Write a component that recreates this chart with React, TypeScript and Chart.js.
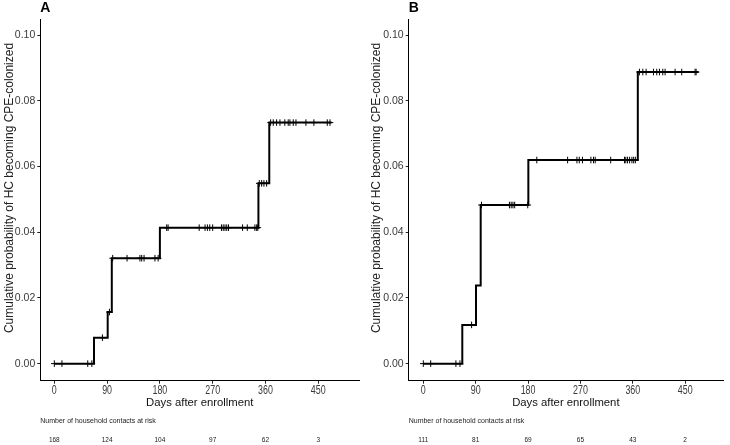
import React, { useEffect, useRef } from "react";
import { Chart, registerables } from "chart.js";
Chart.register(...registerables);

// ---------- data ----------
const xTicks = [0, 90, 180, 270, 360, 450];
const yTicks = [0, 0.02, 0.04, 0.06, 0.08, 0.1];

const riskA = [168, 124, 104, 97, 62, 3];
const riskB = [111, 81, 69, 65, 43, 2];

// Kaplan-Meier style cumulative incidence: time of step, value after step
const stepTimesA = [0, 67.7, 91, 98, 180, 348, 366.5, 472.8];
const stepValuesA = [0, 0.0079, 0.0157, 0.0321, 0.0414, 0.0549, 0.0734, 0.0734];
const censorTimesA = [
  0, 13, 57, 64, 82, 94, 99.5, 124, 146, 149, 153, 171.6, 177, 191.6, 194, 247,
  257, 261, 265, 270, 285, 288, 291, 294, 297, 321, 329, 342, 345, 347, 349.5,
  353.5, 357.4, 362, 368.8, 373.3, 379, 384.7, 393, 398.8, 401.7, 407.4, 412,
  429, 442.6, 465.4, 470,
];

const stepTimesB = [0, 67, 90.6, 98.6, 180.5, 368.6, 472.8];
const stepValuesB = [0, 0.0118, 0.0238, 0.0483, 0.062, 0.0888, 0.0888];
const censorTimesB = [
  0, 12.7, 56, 63, 83, 100, 148, 151, 154, 157, 179.5, 195, 248, 264, 268,
  273.5, 288, 292.5, 295.4, 322, 345.7, 348, 351, 354.5, 358.5, 361.5, 364.4,
  371.4, 377.2, 382.9, 395.5, 401.2, 405.8, 411.5, 415.5, 432.7, 444.1, 467,
  468.8,
];

const xTitle = "Days after enrollment";
const yTitle = "Cumulative probability of HC becoming CPE-colonized";
const riskTitle = "Number of household contacts at risk";

// ---------- helpers ----------
function valueAt(times: number[], vals: number[], t: number) {
  let v = vals[0];
  for (let i = 0; i < times.length; i++) if (times[i] <= t) v = vals[i];
  return v;
}

type Panel = {
  label: string;
  times: number[];
  values: number[];
  censor: number[];
  risk: number[];
  xmin: number;
  xmax: number;
  yAxisWidth: number;
  padRight: number;
  yTitleX: number;
};

const panels: Panel[] = [
  { label: "A", times: stepTimesA, values: stepValuesA, censor: censorTimesA, risk: riskA, xmin: -23.9, xmax: 520, yAxisWidth: 40.3, padRight: 5.7, yTitleX: 9.5 },
  { label: "B", times: stepTimesB, values: stepValuesB, censor: censorTimesB, risk: riskB, xmin: -25.1, xmax: 515, yAxisWidth: 43.7, padRight: 7, yTitleX: 12 },
];

const SANS = "'Liberation Sans', Arial, sans-serif";

function makeConfig(p: Panel): any {
  const extras = {
    id: "extras" + p.label,
    afterDraw(chart: any) {
      const ctx = chart.ctx;
      const area = chart.chartArea;
      const xs = chart.scales.x;
      ctx.save();
      // panel letter
      ctx.fillStyle = "#000";
      ctx.font = `bold 14px ${SANS}`;
      ctx.textAlign = "left";
      ctx.textBaseline = "middle";
      ctx.fillText(p.label, area.left, 8);
      // y axis title
      ctx.save();
      ctx.fillStyle = "#222";
      ctx.font = `12px ${SANS}`;
      ctx.textAlign = "center";
      ctx.translate(p.yTitleX, 188);
      ctx.rotate(-Math.PI / 2);
      ctx.fillText(yTitle, 0, 0);
      ctx.restore();
      // condensed x tick labels
      ctx.fillStyle = "#3a3a3a";
      ctx.font = `12px ${SANS}`;
      ctx.textAlign = "center";
      xTicks.forEach((v) => {
        const px = xs.getPixelForValue(v);
        ctx.save();
        ctx.translate(px, 390.5);
        ctx.scale(0.74, 1);
        ctx.fillText(String(v), 0, 0);
        ctx.restore();
      });
      // risk table
      ctx.fillStyle = "#222";
      ctx.textAlign = "left";
      ctx.font = `7px ${SANS}`;
      ctx.fillText(riskTitle, area.left, 421);
      ctx.font = `6.5px ${SANS}`;
      ctx.textAlign = "center";
      p.risk.forEach((n, i) => {
        ctx.fillText(String(n), xs.getPixelForValue(xTicks[i]), 440);
      });
      ctx.restore();
    },
  };
  return {
    type: "line",
    data: {
      datasets: [
        {
          data: p.times.map((t, i) => ({ x: t, y: p.values[i] })),
          stepped: "before",
          borderColor: "#000",
          borderWidth: 2,
          pointRadius: 0,
          fill: false,
        },
        {
          type: "scatter",
          data: p.censor.map((t) => ({ x: t, y: valueAt(p.times, p.values, t) })),
          pointStyle: "cross",
          pointRadius: 3.3,
          borderColor: "#000",
          backgroundColor: "#000",
          borderWidth: 1,
          showLine: false,
        },
      ],
    },
    options: {
      animation: false,
      responsive: false,
      maintainAspectRatio: false,
      layout: { padding: { left: 0, right: p.padRight, top: 19.5, bottom: 35.3 } },
      plugins: { legend: { display: false }, tooltip: { enabled: false } },
      scales: {
        x: {
          type: "linear",
          min: p.xmin,
          max: p.xmax,
          afterBuildTicks: (s: any) => {
            s.ticks = xTicks.map((v) => ({ value: v }));
          },
          afterFit: (s: any) => {
            s.height = 29;
          },
          grid: { display: true, drawOnChartArea: false, drawTicks: true, tickLength: 3, color: "#222", lineWidth: 1 },
          border: { display: true, color: "#000", width: 1 },
          ticks: { display: false },
          title: { display: true, text: xTitle, color: "#111", font: { family: SANS, size: 11.3 }, padding: 0 },
        },
        y: {
          type: "linear",
          min: -0.0052,
          max: 0.1048,
          afterBuildTicks: (s: any) => {
            s.ticks = yTicks.map((v) => ({ value: v }));
          },
          afterFit: (s: any) => {
            s.width = p.yAxisWidth;
          },
          grid: { display: true, drawOnChartArea: false, drawTicks: true, tickLength: 3, color: "#222", lineWidth: 1 },
          border: { display: true, color: "#000", width: 1 },
          ticks: { color: "#3a3a3a", font: { family: SANS, size: 10.5 }, padding: 2, callback: (v: any) => Number(v).toFixed(2) },
          title: { display: false },
        },
      },
    },
    plugins: [extras],
  };
}

function PanelChart({ p, left }: { p: Panel; left: number }) {
  const ref = useRef<HTMLCanvasElement | null>(null);
  useEffect(() => {
    if (!ref.current) return;
    const chart = new Chart(ref.current, makeConfig(p));
    return () => chart.destroy();
  }, [p]);
  return (
    <canvas
      ref={ref}
      width={365}
      height={445}
      style={{ position: "absolute", left, top: 0, width: 365, height: 445 }}
    />
  );
}

export default function App() {
  return (
    <div style={{ position: "absolute", left: 0, top: 0, width: 730, height: 445, background: "#fff", overflow: "hidden" }}>
      <PanelChart p={panels[0]} left={0} />
      <PanelChart p={panels[1]} left={365} />
    </div>
  );
}
